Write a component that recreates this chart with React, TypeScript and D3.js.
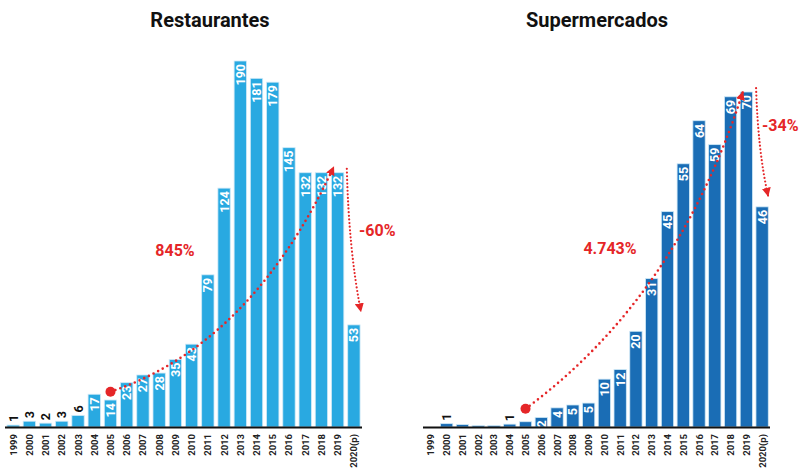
import React from "react";
import * as d3 from "d3";

const years = ["1999","2000","2001","2002","2003","2004","2005","2006","2007","2008","2009","2010","2011","2012","2013","2014","2015","2016","2017","2018","2019","2020(p)"];
const restaurantes = [1,3,2,3,6,17,14,23,27,28,35,43,79,124,190,181,179,145,132,132,132,53];
const restLabels = ["1","3","2","3","6","17","14","23","27","28","35","43","79","124","190","181","179","145","132","132","132","53"];
const supermercados = [0,0.7,0.5,0.3,0.3,0.6,1.1,2,4,4.6,5,10,12,20,31,45,55,64,59,69,70,46];
const superLabels = ["","1","","","","1","","2","4","5","5","10","12","20","31","45","55","64","59","69","70","46"];

const RED = "#e52628";
const FONT = "Roboto, 'Liberation Sans', Arial, sans-serif";

type PanelProps = {
  id: string;
  title: string;
  titleX: number;
  values: number[];
  labels: string[];
  yMax: number;
  yTop: number;
  x0: number;
  x1: number;
  padInner: number;
  padOuter: number;
  color: string;
  insideMin: number;
  growth: { sIdx: number; sVal: number; eIdx: number; eVal: number; edx: number; cfx: number; cfy: number; text: string; tx: number; ty: number; anchor: string };
  drop: { sVal: number; sdx: number; eVal: number; edx: number; text: string; tx: number; ty: number };
};

const BASE = 427;

function Panel(p: PanelProps) {
  const x = d3.scaleBand<string>().domain(years).range([p.x0, p.x1]).paddingInner(p.padInner).paddingOuter(p.padOuter);
  const y = d3.scaleLinear().domain([0, p.yMax]).range([BASE, p.yTop]);
  const bw = x.bandwidth();
  const cx = (i: number) => (x(years[i]) as number) + bw / 2;

  const g = p.growth;
  const sx = cx(g.sIdx), sy = y(g.sVal);
  const ex = cx(g.eIdx) + g.edx, ey = y(g.eVal);
  const ctrlX = sx + g.cfx * (ex - sx), ctrlY = sy - g.cfy * (sy - ey);
  const curve = d3.path();
  curve.moveTo(sx, sy);
  curve.quadraticCurveTo(ctrlX, ctrlY, ex, ey);

  const d = p.drop;
  const last = years.length - 1;
  const dsx = (x(years[last - 1]) as number) + bw + d.sdx, dsy = y(d.sVal);
  const dex = cx(last) + d.edx, dey = y(d.eVal);
  const dpath = d3.path();
  dpath.moveTo(dsx, dsy);
  dpath.quadraticCurveTo(dsx + 2, (dsy + dey) / 2 + 10, dex, dey);

  return (
    <g>
      <defs>
        <marker id={`arr-${p.id}`} viewBox="0 0 10 10" refX="9" refY="5" markerWidth="9" markerHeight="9" markerUnits="userSpaceOnUse" orient="auto">
          <path d="M0,0 L10,5 L0,10 Z" fill={RED} />
        </marker>
      </defs>
      <text x={p.titleX} y={27} textAnchor="middle" fontFamily={FONT} fontWeight={700} fontSize={20} fill="#111">{p.title}</text>
      {p.values.map((v, i) => (
        <rect key={i} x={x(years[i])} y={y(v)} width={bw} height={BASE - y(v)} fill={p.color} stroke="#cfe9f7" strokeWidth={0.8} />
      ))}
      {p.values.map((v, i) => {
        const lab = p.labels[i];
        if (!lab) return null;
        const inside = v >= p.insideMin;
        const tx = cx(i) + 4.5;
        const ty = inside ? y(v) + 3 : y(v) - 3;
        return (
          <text key={i} transform={`translate(${tx},${ty}) rotate(-90)`} textAnchor={inside ? "end" : "start"}
            fontFamily={FONT} fontWeight={700} fontSize={12.5} fill={inside ? "#fff" : "#111"}>{lab}</text>
        );
      })}
      <line x1={p.x0} x2={p.x1} y1={BASE + 0.5} y2={BASE + 0.5} stroke="#111" strokeWidth={2} />
      {years.map((yr, i) => (
        <text key={yr} transform={`translate(${cx(i) + 3.5},${BASE + 7}) rotate(-90)`} textAnchor="end"
          fontFamily={FONT} fontWeight={700} fontSize={9.5} fill="#222">{yr}</text>
      ))}
      <path d={curve.toString()} fill="none" stroke={RED} strokeWidth={2.6} strokeLinecap="round" strokeDasharray="0 5.2" markerEnd={`url(#arr-${p.id})`} />
      <circle cx={sx} cy={sy} r={5} fill={RED} />
      <path d={dpath.toString()} fill="none" stroke={RED} strokeWidth={2.2} strokeLinecap="round" strokeDasharray="0 3.6" markerEnd={`url(#arr-${p.id})`} />
      <text x={g.tx} y={g.ty} textAnchor={g.anchor} fontFamily={FONT} fontWeight={700} fontSize={16} fill={RED}>{g.text}</text>
      <text x={d.tx} y={d.ty} textAnchor="start" fontFamily={FONT} fontWeight={700} fontSize={16} fill={RED}>{d.text}</text>
    </g>
  );
}

export default function App() {
  return (
    <svg width={801} height={469} style={{ position: "absolute", left: 0, top: 0, background: "#fff" }}>
      <rect width={801} height={469} fill="#fff" />
      <Panel id="r" title="Restaurantes" titleX={210} values={restaurantes} labels={restLabels} yMax={190} yTop={61}
        x0={5} x1={362} padInner={0.24} padOuter={0.12} color="#29a9e1" insideMin={10}
        growth={{ sIdx: 6, sVal: 18.3, eIdx: 20, eVal: 135, edx: -4, cfx: 0.63, cfy: 0.21, text: "845%", tx: 175, ty: 256, anchor: "middle" }}
        drop={{ sVal: 134, sdx: 3, eVal: 60, edx: 7, text: "-60%", tx: 359, ty: 236 }} />
      <Panel id="s" title="Supermercados" titleX={597} values={supermercados} labels={superLabels} yMax={70} yTop={92}
        x0={423} x1={770} padInner={0.22} padOuter={0.11} color="#1a6db5" insideMin={1.5}
        growth={{ sIdx: 6, sVal: 3.8, eIdx: 20, eVal: 70, edx: -3.5, cfx: 0.70, cfy: 0.355, text: "4.743%", tx: 610, ty: 254, anchor: "middle" }}
        drop={{ sVal: 70.8, sdx: 3.6, eVal: 48.3, edx: 6, text: "-34%", tx: 762, ty: 131 }} />
    </svg>
  );
}
